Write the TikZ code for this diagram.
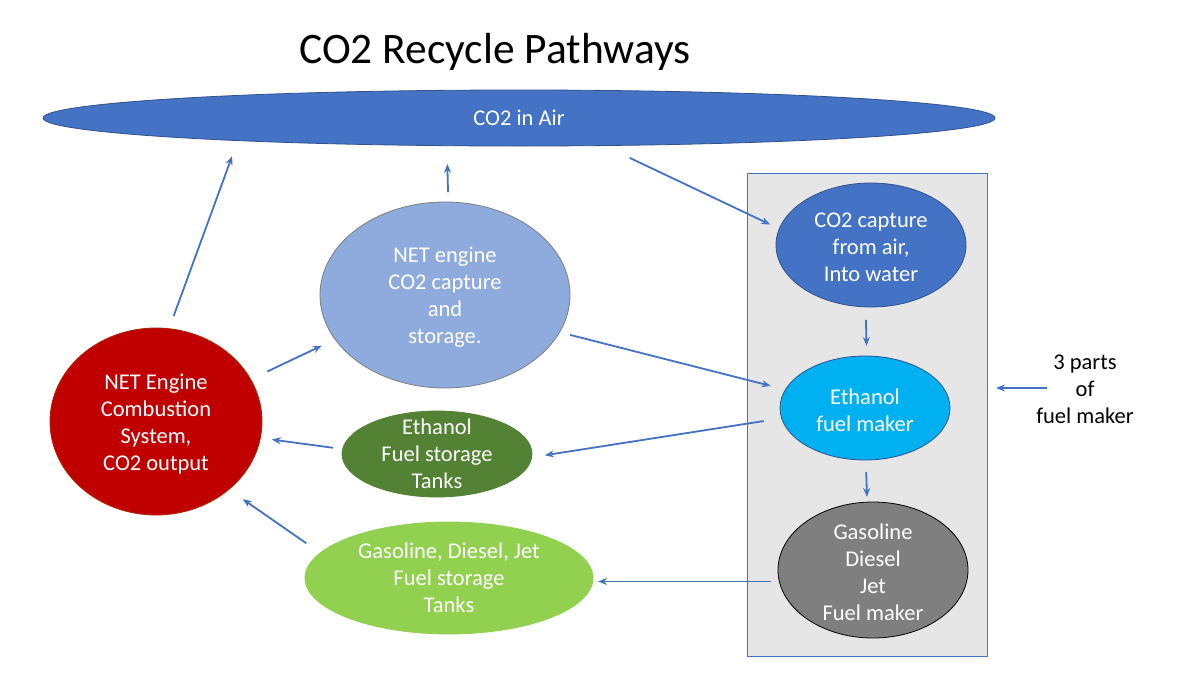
\documentclass[tikz,border=0pt]{standalone}
\usepackage{fontspec}
\setmainfont{Carlito}
\usetikzlibrary{shapes.geometric,arrows.meta}
\definecolor{airblue}{HTML}{4472C4}
\definecolor{darkblue}{HTML}{2F528F}
\definecolor{boxgray}{HTML}{E7E6E6}
\definecolor{netblue}{HTML}{8FAADC}
\definecolor{skyblue}{HTML}{00B0F0}
\definecolor{midgray}{HTML}{7F7F7F}
\definecolor{combred}{HTML}{C00000}
\definecolor{darkgreen}{HTML}{548235}
\definecolor{lightgreen}{HTML}{92D050}
\begin{document}
\begin{tikzpicture}[x=1pt,y=-1pt,
  arr/.style={draw=airblue, line width=1.8pt, -{Stealth[length=9pt,width=7pt]}},
  ell/.style={ellipse, inner sep=0pt, outer sep=0pt, line width=0.8pt},
  wtxt/.style={text=white, align=center, inner sep=0pt, font=\fontsize{22.5}{27}\selectfont},
  btxt/.style={text=black, align=center, inner sep=0pt, font=\fontsize{22.5}{27}\selectfont},
]
\useasboundingbox (0,0) rectangle (1200,675);
\fill[white] (0,0) rectangle (1200,675);

% title
\node[anchor=base west, inner sep=0pt, font=\fontsize{43.5}{50}\selectfont] (title) at (299,63) {CO2 Recycle Pathways};

% CO2 in air
\node[ell, fill=airblue, draw=darkblue, minimum width=952pt, minimum height=56pt,
      label={[wtxt]center:CO2 in Air}] (air) at (519,118) {};

% fuel maker box
\node[draw=airblue, fill=boxgray, line width=1pt, inner sep=0pt, outer sep=0pt,
      minimum width=240pt, minimum height=483pt] (box) at (867,414.5) {};

% nodes in the box
\node[ell, fill=airblue, draw=darkblue, minimum width=190pt, minimum height=124pt,
      label={[wtxt,yshift=-2pt]center:CO2 capture\\from air,\\Into water}] (cap) at (871,245) {};
\node[ell, fill=skyblue, draw=darkblue, minimum width=170pt, minimum height=104pt,
      label={[wtxt,yshift=-2pt]center:Ethanol\\fuel maker}] (emk) at (865,408) {};
\node[ell, fill=midgray, draw=black, minimum width=190pt, minimum height=136pt,
      label={[wtxt,yshift=-2pt]center:Gasoline\\Diesel\\Jet\\Fuel maker}] (gmk) at (873,570) {};

% left side nodes
\node[ell, fill=netblue, draw=midgray, minimum width=250pt, minimum height=186pt,
      label={[wtxt,yshift=-2pt]center:NET engine\\CO2 capture\\and\\storage.}] (netc) at (445,295) {};
\node[ell, fill=combred, draw=combred!70!olive, minimum width=212pt, minimum height=187pt,
      label={[wtxt,yshift=-3pt]center:NET Engine\\Combustion\\System,\\CO2 output}] (comb) at (156,421.5) {};
\node[ell, fill=darkgreen, draw=darkgreen, minimum width=190pt, minimum height=86pt,
      label={[wtxt]center:Ethanol\\Fuel storage\\Tanks}] (estor) at (437,454) {};
\node[ell, fill=lightgreen, draw=lightgreen, minimum width=288pt, minimum height=112pt,
      label={[wtxt]center:Gasoline, Diesel, Jet\\Fuel storage\\Tanks}] (gstor) at (449,578) {};

% side text
\node[btxt] (parts) at (1085,389) {3 parts\\of\\fuel maker};
\coordinate (pstart) at (1047,388);

% connectors
\draw[arr, shorten <=13.5pt, shorten >=16.5pt] (comb.82.4) -- ([shift={(-281.2,22.6)}]air.center);
\draw[arr, shorten <=10pt, shorten >=18.3pt] (netc.88.2) -- (air.201.3);
\draw[arr, shorten <=28.8pt, shorten >=10pt] (air.342) -- (cap.170.4);
\draw[arr, shorten <=13pt, shorten >=10pt] (cap.265.4) -- (emk.88.9);
\draw[arr, shorten <=10.8pt, shorten >=15.2pt] (netc.342) -- (emk.167.9);
\draw[arr, shorten <=18.2pt, shorten >=13.3pt] (emk.187.75) -- (estor.358.2);
\draw[arr, shorten <=12pt, shorten >=5.2pt] (emk.271.1) -- (gmk.95.9);
\draw[arr, shorten <=8.5pt, shorten >=5pt] (gmk.187.3) -- (gmk.187.3 -| gstor.east);
\draw[arr, shorten <=18.5pt, shorten >=14.8pt] (comb.24) -- (netc.202.3);
\draw[arr, shorten <=9.6pt, shorten >=11.6pt] (estor.177.3) -- (comb.351.9);
\draw[arr, shorten <=17pt, shorten >=17pt] (gstor.169.5) -- (comb.317.1);
\draw[arr, shorten >=9pt] (pstart) -- (box.east |- pstart);
\end{tikzpicture}
\end{document}
